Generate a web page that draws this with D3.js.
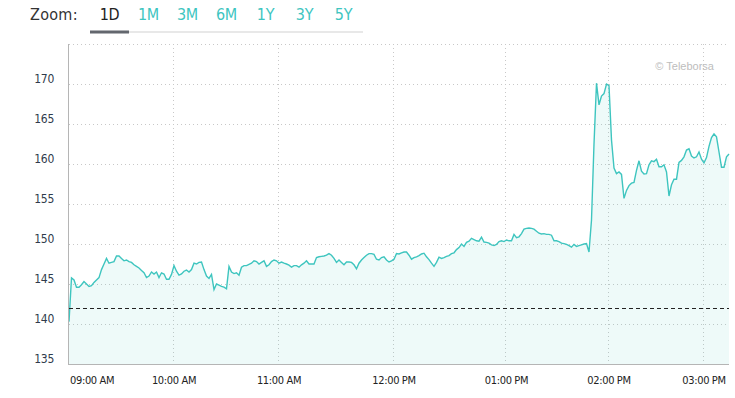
<!DOCTYPE html>
<html>
<head>
<meta charset="utf-8">
<script src="https://cdn.jsdelivr.net/npm/d3@7"></script>
<style>
  html, body { margin: 0; padding: 0; background: #fff; }
  svg { display: block; font-family: "Liberation Sans Narrow", "DejaVu Sans Condensed", sans-serif; }
</style>
</head>
<body>
<div id="chart"></div>
<script>
// intraday prices, one entry per trade step on the ordinal x axis
const prices = [
  140.3, 145.75, 145.5, 144.6, 144.6, 144.9, 145.3, 145.0, 144.7, 144.8,
  145.2, 145.5, 145.8, 146.8, 147.5, 148.2, 147.6, 147.7, 147.8, 148.5,
  148.5, 148.2, 147.9, 148.0, 147.8, 147.7, 147.4, 147.2, 147.0, 146.7,
  146.4, 145.8, 146.0, 146.5, 146.25, 146.5, 145.8, 146.4, 146.25, 145.6,
  145.6, 146.2, 147.3, 146.6, 146.1, 146.25, 146.6, 146.75, 146.5, 146.8,
  147.6, 147.5, 147.7, 147.75, 146.8, 146.0, 145.7, 146.2, 144.3, 145.0,
  144.85, 144.7, 144.6, 144.4, 147.2, 146.5, 146.3, 146.4, 146.1, 147.1,
  147.3, 147.3, 147.45, 147.6, 147.9, 147.8, 147.5, 147.7, 147.9, 147.2,
  147.4, 147.8, 148.0, 147.9, 147.6, 147.75, 147.6, 147.5, 147.35, 147.1,
  147.3, 147.3, 147.1, 147.4, 147.6, 147.9, 147.5, 147.5, 147.5, 148.3,
  148.4, 148.45, 148.5, 148.6, 148.8, 148.6, 148.2, 147.7, 148.0, 147.7,
  147.4, 147.75, 147.75, 147.7, 147.4, 146.9, 147.6, 148.0, 148.3, 148.6,
  148.8, 148.8, 148.7, 148.1, 148.0, 148.3, 148.4, 148.0, 147.75, 147.9,
  148.1, 148.8, 148.75, 148.9, 149.0, 149.0, 148.6, 148.1, 148.3, 148.4,
  148.55, 148.75, 148.85, 148.4, 148.05, 147.6, 147.2, 147.7, 148.35, 148.2,
  148.3, 148.45, 148.55, 148.8, 148.9, 149.3, 149.55, 150.0, 149.7, 150.2,
  150.35, 150.7, 150.55, 150.4, 150.35, 150.85, 150.25, 150.2, 150.1, 149.9,
  149.8, 149.95, 150.3, 150.4, 150.3, 150.5, 150.4, 150.4, 151.2, 150.8,
  150.9, 151.3, 151.85, 151.95, 152.0, 151.95, 151.85, 151.6, 151.35, 151.25,
  151.3, 151.2, 151.2, 151.1, 150.4, 150.4, 150.3, 150.1, 150.05, 149.95,
  149.8, 149.6, 149.95, 149.7, 149.8, 149.9, 150.0, 150.05, 149.0, 153.0,
  162.5, 170.1, 167.4, 168.5, 168.8, 170.0, 169.8, 163.0, 159.5, 158.8,
  159.0, 158.7, 155.7, 156.7, 157.3, 157.6, 157.7, 159.2, 160.4, 159.1,
  158.75, 158.8, 159.9, 160.4, 160.3, 160.6, 159.65, 159.65, 159.9, 159.0,
  156.0, 157.4, 158.1, 158.1, 160.2, 160.45, 160.9, 161.75, 161.9, 161.0,
  160.75, 160.9, 161.5, 160.6, 160.15, 160.8, 162.2, 163.3, 163.75, 163.4,
  161.5, 159.6, 159.6, 160.9, 161.25
];
const previousClose = 142.0;

// hour ticks: index of the first trade of each hour
const timeTickIndex = [0, 42, 84, 130, 175, 216, 254];
const timeTickLabels = ["09:00 AM", "10:00 AM", "11:00 AM", "12:00 PM", "01:00 PM", "02:00 PM", "03:00 PM"];
const priceTicks = [135, 140, 145, 150, 155, 160, 165, 170];

const zoomButtons = ["1D", "1M", "3M", "6M", "1Y", "3Y", "5Y"];
const activeButton = "1D";

const W = 735, H = 398;
const margin = { top: 44, right: 6, bottom: 34, left: 69 };
const teal = "#3ec5bf";

const svg = d3.select("#chart").append("svg")
    .attr("width", W)
    .attr("height", H);

// zoom selector
svg.append("text")
    .attr("x", 30).attr("y", 20)
    .style("font-size", "16px")
    .style("fill", "#333")
    .style("letter-spacing", "0.3px")
    .text("Zoom:");

const btnX = d3.scaleBand()
    .domain(zoomButtons)
    .range([90, 363]);

svg.append("line")
    .attr("x1", btnX.range()[0]).attr("x2", btnX.range()[1])
    .attr("y1", 32).attr("y2", 32)
    .attr("stroke", "#e8e8e8")
    .attr("stroke-width", 2);

svg.append("line")
    .attr("x1", btnX(activeButton)).attr("x2", btnX(activeButton) + btnX.bandwidth())
    .attr("y1", 32).attr("y2", 32)
    .attr("stroke", "#63676e")
    .attr("stroke-width", 3);

svg.selectAll(".btn")
    .data(zoomButtons)
    .enter().append("text")
    .attr("class", "btn")
    .attr("x", d => btnX(d) + btnX.bandwidth() / 2)
    .attr("y", 20)
    .attr("text-anchor", "middle")
    .style("font-size", "16px")
    .style("letter-spacing", "-0.3px")
    .style("fill", d => d === activeButton ? "#222" : teal)
    .text(d => d);

// plot
const x = d3.scaleLinear()
    .domain([0, prices.length - 1])
    .range([margin.left, W - margin.right]);

const y = d3.scaleLinear()
    .domain([135, 175])
    .range([H - margin.bottom, margin.top]);

const g = svg.append("g");

// horizontal grid
g.selectAll(".hgrid")
    .data(priceTicks.slice(1).concat([175]))
    .enter().append("line")
    .attr("x1", x.range()[0]).attr("x2", x.range()[1])
    .attr("y1", d => y(d) + 0.5).attr("y2", d => y(d) + 0.5)
    .attr("stroke", "#c8c8c8")
    .attr("stroke-dasharray", "1,3");

// vertical grid
g.selectAll(".vgrid")
    .data(timeTickIndex.slice(1))
    .enter().append("line")
    .attr("x1", d => Math.round(x(d)) - 0.5).attr("x2", d => Math.round(x(d)) - 0.5)
    .attr("y1", y.range()[1]).attr("y2", y.range()[0])
    .attr("stroke", "#c8c8c8")
    .attr("stroke-dasharray", "1,3");

// area + line
const area = d3.area()
    .x((d, i) => x(i))
    .y0(y(135))
    .y1(d => y(d));

const line = d3.line()
    .x((d, i) => x(i))
    .y(d => y(d));

g.append("path")
    .datum(prices)
    .attr("d", area)
    .attr("fill", teal)
    .attr("fill-opacity", 0.09);

g.append("path")
    .datum(prices)
    .attr("d", line)
    .attr("fill", "none")
    .attr("stroke", teal)
    .attr("stroke-width", 1.4);

// previous close
g.append("line")
    .attr("x1", x.range()[0]).attr("x2", x.range()[1])
    .attr("y1", y(previousClose) + 0.5).attr("y2", y(previousClose) + 0.5)
    .attr("stroke", "#222")
    .attr("stroke-width", 1)
    .attr("stroke-dasharray", "4,3");

// axis lines
g.append("line")
    .attr("x1", x.range()[0] - 0.5).attr("x2", x.range()[0] - 0.5)
    .attr("y1", y.range()[1]).attr("y2", y.range()[0])
    .attr("stroke", "#b5b5b5");

g.append("line")
    .attr("x1", x.range()[0] - 1).attr("x2", x.range()[1])
    .attr("y1", y.range()[0] + 0.5).attr("y2", y.range()[0] + 0.5)
    .attr("stroke", "#b5b5b5");

// y labels
g.selectAll(".ylab")
    .data(priceTicks)
    .enter().append("text")
    .attr("x", 54)
    .attr("y", d => y(d) - 1)
    .attr("text-anchor", "end")
    .style("font-size", "12px")
    .style("letter-spacing", "-0.3px")
    .style("fill", "#2f3b4c")
    .text(d => d);

// x labels (kept inside the plot width)
g.selectAll(".xlab")
    .data(timeTickIndex)
    .enter().append("text")
    .attr("class", "xlab")
    .attr("x", d => x(d))
    .attr("y", 384)
    .attr("text-anchor", "middle")
    .style("font-size", "11px")
    .style("letter-spacing", "-0.35px")
    .style("fill", "#222")
    .text((d, i) => timeTickLabels[i])
    .each(function(d) {
        const w = this.getComputedTextLength();
        let cx = x(d);
        if (cx - w / 2 < x.range()[0]) cx = x.range()[0] + 1 + w / 2;
        if (cx + w / 2 > x.range()[1]) cx = x.range()[1] - w / 2;
        d3.select(this).attr("x", cx);
    });

// credit
svg.append("text")
    .attr("x", 714)
    .attr("y", 70)
    .attr("text-anchor", "end")
    .style("font-family", "'Liberation Sans', Arial, sans-serif")
    .style("font-size", "11px")
    .style("fill", "#bdbdbd")
    .text("© Teleborsa");
</script>
</body>
</html>
